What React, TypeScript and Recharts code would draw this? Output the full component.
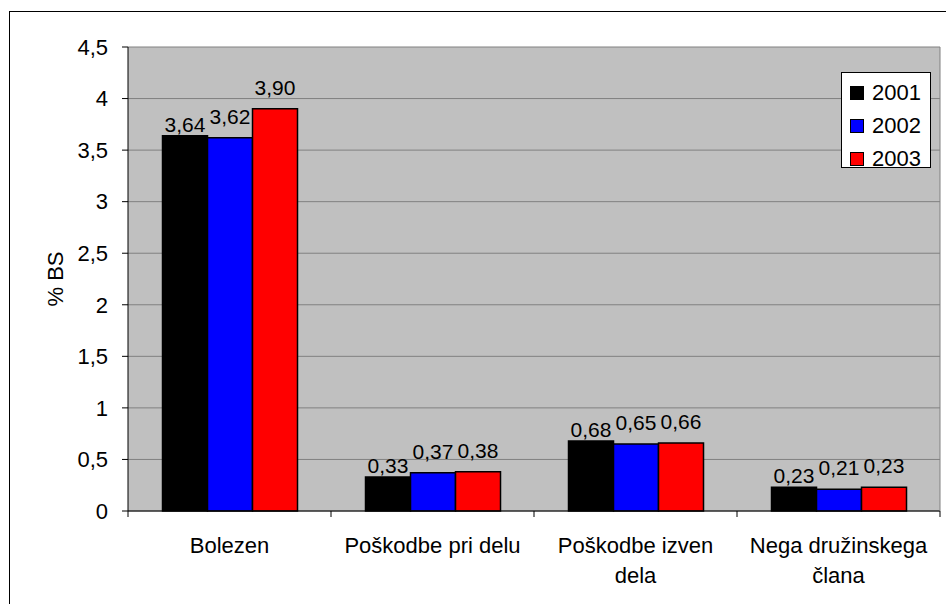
import React from 'react';
import { BarChart, Bar, XAxis, YAxis, CartesianGrid, Legend, LabelList } from 'recharts';

const categories = ['Bolezen', 'Poškodbe pri delu', 'Poškodbe izven\ndela', 'Nega družinskega\nčlana'];
const years = ['2001', '2002', '2003'];
const values2001 = [3.64, 0.33, 0.68, 0.23];
const values2002 = [3.62, 0.37, 0.65, 0.21];
const values2003 = [3.9, 0.38, 0.66, 0.23];
const yTicks = [0, 0.5, 1, 1.5, 2, 2.5, 3, 3.5, 4, 4.5];
const colors = ['#000000', '#0000ff', '#ff0000'];
// Excel put the first series' labels closer to the bars
const labelOffsets = [4, 14, 14];

const W = 946;
const H = 604;
const margin = { top: 47, right: 5, bottom: 13, left: 28 };
const yAxisWidth = 100;
const plotWidth = W - margin.left - yAxisWidth - margin.right - 1;
const halfBand = plotWidth / categories.length / 2;

const FONT = '"Liberation Sans", Arial, sans-serif';

const data = categories.map((name, i) => ({
  name,
  y2001: values2001[i],
  y2002: values2002[i],
  y2003: values2003[i],
}));

const fmt = (v: any) => String(v).replace('.', ',');
const fmt2 = (v: any) => Number(v).toFixed(2).replace('.', ',');

const CategoryTick = (props: any) => {
  const { x, y, payload, index } = props;
  const lines = String(payload.value).split('\n');
  return (
    <g>
      <line x1={x - halfBand} x2={x - halfBand} y1={y - 6} y2={y} stroke="#000" />
      {index === categories.length - 1 && (
        <line x1={x + halfBand} x2={x + halfBand} y1={y - 6} y2={y} stroke="#000" />
      )}
      {lines.map((ln, i) => (
        <text key={i} x={x} y={y + 36 + i * 30} textAnchor="middle" fontSize={22} fill="#000" fontFamily={FONT}>
          {ln}
        </text>
      ))}
    </g>
  );
};

const LegendBox = () => (
  <div
    style={{
      width: 88,
      height: 94,
      border: '1px solid #000',
      background: '#fff',
      fontFamily: FONT,
      fontSize: 22,
      boxSizing: 'content-box',
    }}
  >
    {years.map((yr, i) => (
      <div key={yr} style={{ display: 'flex', alignItems: 'center', height: 33, marginTop: i === 0 ? 3 : 0 }}>
        <div
          style={{
            width: 12,
            height: 12,
            background: colors[i],
            border: '1px solid #000',
            marginLeft: 8,
            marginRight: 8,
          }}
        />
        <span style={{ lineHeight: '22px' }}>{yr}</span>
      </div>
    ))}
  </div>
);

const YLabel = (props: any) => {
  const vb = props.viewBox || { x: margin.left, y: margin.top, width: yAxisWidth, height: 464 };
  const cx = vb.x + 27;
  const cy = vb.y + vb.height / 2;
  return (
    <text
      x={cx}
      y={cy}
      transform={`rotate(-90 ${cx} ${cy})`}
      textAnchor="middle"
      dominantBaseline="central"
      fontSize={22}
      fill="#000"
      fontFamily={FONT}
    >
      % BS
    </text>
  );
};

export default function App() {
  return (
    <div style={{ position: 'absolute', left: 0, top: 0, width: W, height: H, overflow: 'hidden', background: '#fff' }}>
      <div
        style={{
          position: 'absolute',
          left: 9,
          top: 11,
          width: W + 20,
          height: H + 20,
          border: '1px solid #000',
        }}
      />
      <BarChart
        width={W}
        height={H}
        data={data}
        margin={margin}
        barCategoryGap="17%"
        barGap={0}
        style={{ position: 'absolute', left: 0, top: 0 }}
      >
        <CartesianGrid horizontal vertical={false} stroke="#808080" fill="#c0c0c0" fillOpacity={1} />
        <XAxis
          dataKey="name"
          axisLine={{ stroke: '#000' }}
          tickLine={false}
          tickSize={6}
          tickMargin={0}
          height={80}
          interval={0}
          tick={<CategoryTick />}
        />
        <YAxis
          domain={[0, 4.5]}
          ticks={yTicks}
          width={yAxisWidth}
          axisLine={{ stroke: '#000' }}
          tickLine={{ stroke: '#000' }}
          tickSize={6}
          tickMargin={14}
          tickFormatter={fmt}
          tick={{ fontSize: 22, fill: '#000', fontFamily: FONT }}
          label={<YLabel />}
        />
        <YAxis
          yAxisId="right"
          orientation="right"
          domain={[0, 4.5]}
          width={1}
          tick={false}
          tickLine={false}
          axisLine={{ stroke: '#808080' }}
        />
        <Legend
          layout="vertical"
          align="center"
          verticalAlign="middle"
          content={<LegendBox />}
          wrapperStyle={{ position: 'absolute', left: 841, top: 72, width: 90, height: 96 }}
        />
        {(['y2001', 'y2002', 'y2003'] as const).map((key, i) => (
          <Bar key={key} dataKey={key} name={years[i]} fill={colors[i]} stroke="#000" strokeWidth={1.5} isAnimationActive={false}>
            <LabelList
              dataKey={key}
              position="top"
              offset={labelOffsets[i]}
              formatter={fmt2}
              style={{ fontSize: 21, fill: '#000', fontFamily: FONT }}
            />
          </Bar>
        ))}
      </BarChart>
    </div>
  );
}
